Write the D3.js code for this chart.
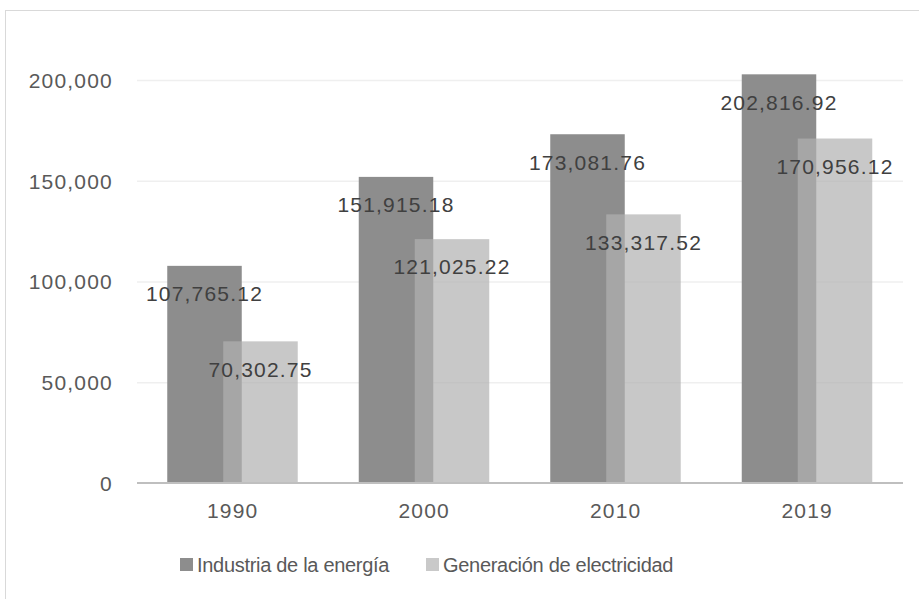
<!DOCTYPE html>
<html><head><meta charset="utf-8">
<script src="https://cdn.jsdelivr.net/npm/d3@7"></script>
<style>body{margin:0;background:#fff;} svg{display:block;}</style>
</head><body>
<svg id="c" width="919" height="599"></svg>
<script>
const categories = ["1990", "2000", "2010", "2019"];
const seriesNames = ["Industria de la energía", "Generación de electricidad"];
const industria = [107765.12, 151915.18, 173081.76, 202816.92];
const generacion = [70302.75, 121025.22, 133317.52, 170956.12];
const yTicks = [0, 50000, 100000, 150000, 200000];

(function () {
const svg = d3.select("#c");
const mL = 137, mR = 903, mT = 80, mB = 483;
const font = "'Liberation Sans', Arial, sans-serif";

svg.append("rect").attr("x", 5.5).attr("y", 10.5).attr("width", 1000).attr("height", 1000)
  .attr("fill", "#fff").attr("stroke", "#d9d9d9").attr("stroke-width", 1);

const x = d3.scaleBand().domain(categories).range([mL, mR]).padding(0);
const y = d3.scaleLinear().domain([0, 200000]).range([mB, mT]);

// gridlines
svg.append("g").selectAll("line").data(yTicks.filter(d => d > 0)).join("line")
  .attr("x1", mL).attr("x2", mR)
  .attr("y1", d => y(d) + 0.5).attr("y2", d => y(d) + 0.5)
  .attr("stroke", "#efefef").attr("stroke-width", 1.3);

// y axis labels
const yAxis = d3.axisLeft(y).tickValues(yTicks).tickSize(0).tickPadding(0)
  .tickFormat(d3.format(","));
const yg = svg.append("g").attr("transform", `translate(113,0)`).call(yAxis);
yg.select(".domain").remove();
yg.selectAll("text").attr("font-family", font).attr("font-size", 21).attr("fill", "#595959")
  .attr("letter-spacing", "1.2px").attr("dy", "0.35em");

const barW = 74.5;
const series = [
  {name: seriesNames[0], values: industria, dx: -65.5, fill: "#8d8d8d", op: 1},
  {name: seriesNames[1], values: generacion, dx: -9.5, fill: "#b0b0b0", op: 0.7}
];
series.forEach(s => {
  const g = svg.append("g");
  g.selectAll("rect").data(categories).join("rect")
    .attr("x", (c) => x(c) + x.bandwidth() / 2 + s.dx)
    .attr("width", barW)
    .attr("y", (c, i) => y(s.values[i]))
    .attr("height", (c, i) => mB - y(s.values[i]))
    .attr("fill", s.fill).attr("fill-opacity", s.op);
});
// axis line
svg.append("line").attr("x1", mL).attr("x2", mR).attr("y1", mB).attr("y2", mB)
  .attr("stroke", "#bfbfbf").attr("stroke-width", 1.8);

// x labels
const xAxis = d3.axisBottom(x).tickSize(0).tickPadding(0);
const xg = svg.append("g").attr("transform", `translate(0,511)`).call(xAxis);
xg.select(".domain").remove();
xg.selectAll("text").attr("font-family", font).attr("font-size", 21).attr("fill", "#595959")
  .attr("letter-spacing", "1.2px").attr("dy", "0.35em");

// data labels
const fmt = d3.format(",.2f");
series.forEach(s => {
  svg.append("g").selectAll("text").data(categories).join("text")
    .attr("x", c => x(c) + x.bandwidth() / 2 + s.dx + barW / 2)
    .attr("y", (c, i) => y(s.values[i]) + 28)
    .attr("dy", "0.35em").attr("text-anchor", "middle")
    .attr("font-family", font).attr("font-size", 21).attr("fill", "#404040")
    .attr("letter-spacing", "1.2px")
    .text((c, i) => fmt(s.values[i]));
});

// legend
const legX = [180, 426];
const lg = svg.append("g");
seriesNames.forEach((n, i) => {
  lg.append("rect").attr("x", legX[i]).attr("y", 558).attr("width", 13).attr("height", 13)
    .attr("fill", i === 0 ? "#8d8d8d" : "#c9c9c9");
  lg.append("text").attr("x", legX[i] + 17).attr("y", 565).attr("dy", "0.35em")
    .attr("font-family", font).attr("font-size", 20).attr("fill", "#595959")
    .attr("letter-spacing", "-0.3px")
    .text(n);
});
})();
</script>
</body></html>
